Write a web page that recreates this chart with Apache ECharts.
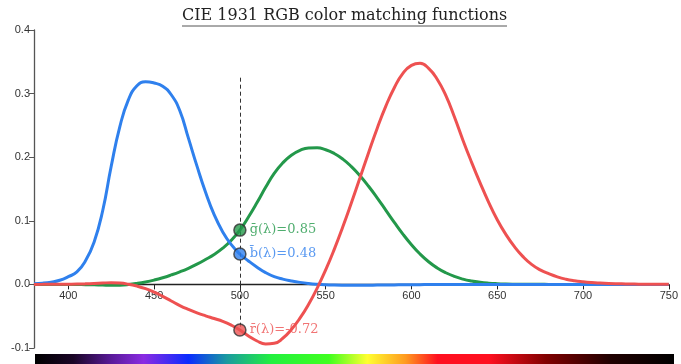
<!DOCTYPE html>
<html>
<head>
<meta charset="utf-8">
<script src="https://cdn.jsdelivr.net/npm/echarts@6/dist/echarts.min.js"></script>
<style>
  html, body { margin: 0; padding: 0; background: #fff; }
  #chart { width: 681px; height: 364px; }
</style>
</head>
<body>
<div id="chart"></div>
<script>
// wavelengths (nm), 5 nm steps
var wavelengths = [];
for (var w = 380; w <= 750; w += 5) wavelengths.push(w);

// CIE 1931 r-bar, g-bar, b-bar
var rBar = [0.00003, 0.00005, 0.00010, 0.00017, 0.00030, 0.00047, 0.00084, 0.00139, 0.00211, 0.00266,
  0.00218, 0.00036, -0.00261, -0.00673, -0.01213, -0.01874, -0.02608, -0.03324, -0.03933, -0.04471,
  -0.04939, -0.05364, -0.05814, -0.06414, -0.07173, -0.08120, -0.08901, -0.09356, -0.09264, -0.08473,
  -0.07101, -0.05316, -0.03152, -0.00613, 0.02279, 0.05514, 0.09060, 0.12840, 0.16768, 0.20715,
  0.24526, 0.27989, 0.30928, 0.33184, 0.34429, 0.34756, 0.33971, 0.32265, 0.29708, 0.26348,
  0.22677, 0.19233, 0.15968, 0.12905, 0.10167, 0.07857, 0.05932, 0.04366, 0.03149, 0.02294,
  0.01687, 0.01187, 0.00819, 0.00572, 0.00410, 0.00291, 0.00210, 0.00148, 0.00105, 0.00074,
  0.00052, 0.00036, 0.00025, 0.00017, 0.00012];
var gBar = [-0.00001, -0.00002, -0.00004, -0.00007, -0.00014, -0.00022, -0.00041, -0.00070, -0.00110, -0.00143,
  -0.00119, -0.00021, 0.00149, 0.00379, 0.00678, 0.01046, 0.01485, 0.01977, 0.02538, 0.03183,
  0.03914, 0.04713, 0.05689, 0.06948, 0.08536, 0.10593, 0.12860, 0.15262, 0.17468, 0.19113,
  0.20317, 0.21083, 0.21466, 0.21487, 0.21178, 0.20588, 0.19702, 0.18522, 0.17087, 0.15429,
  0.13610, 0.11686, 0.09754, 0.07909, 0.06246, 0.04776, 0.03557, 0.02583, 0.01828, 0.01253,
  0.00833, 0.00537, 0.00334, 0.00199, 0.00116, 0.00066, 0.00037, 0.00021, 0.00011, 0.00006,
  0.00003, 0.00001, 0, 0, 0, 0, 0, 0, 0, 0,
  0, 0, 0, 0, 0];
var bBar = [0.00117, 0.00189, 0.00359, 0.00647, 0.01214, 0.01969, 0.03707, 0.06637, 0.11541, 0.18575,
  0.24769, 0.29012, 0.31228, 0.31860, 0.31670, 0.31166, 0.29821, 0.27295, 0.22991, 0.18592,
  0.14494, 0.10968, 0.08257, 0.06246, 0.04776, 0.03688, 0.02698, 0.01842, 0.01221, 0.00830,
  0.00549, 0.00320, 0.00146, 0.00023, -0.00058, -0.00105, -0.00130, -0.00138, -0.00135, -0.00123,
  -0.00108, -0.00093, -0.00079, -0.00063, -0.00049, -0.00038, -0.00030, -0.00022, -0.00015, -0.00011,
  -0.00008, -0.00005, -0.00003, -0.00002, -0.00001, -0.00001, 0, 0, 0, 0,
  0, 0, 0, 0, 0, 0, 0, 0, 0, 0,
  0, 0, 0, 0, 0];

var xTicks = [400, 450, 500, 550, 600, 650, 700, 750];

// cursor readout at 500 nm
var cursorX = 500;
var cursorTop = 0.325;
var readoutNames = ['g\u0304(\u03bb)', 'b\u0304(\u03bb)', 'r\u0304(\u03bb)'];
var readoutValues = [0.08536, 0.04776, -0.07173];
var readoutTexts = ['0.85', '0.48', '-0.72'];

// spectrum strip colours (offset, colour)
var spectrumStops = [
  [0.00, '#000000'], [0.06, '#1a0526'], [0.12, '#5a1a9a'], [0.17, '#8a2be2'],
  [0.24, '#0a2cff'], [0.30, '#1a9aa0'], [0.37, '#22f040'], [0.46, '#40ff20'],
  [0.52, '#ffff30'], [0.58, '#ff9a20'], [0.63, '#ff1020'], [0.71, '#ff1020'],
  [0.80, '#800000'], [0.90, '#200000'], [1.00, '#000000']
];

var red = '#ee5151', green = '#23984a', blue = '#2f80ed';
var colors = [green, blue, red];

function pairs(ys) {
  return wavelengths.map(function (x, i) { return [x, ys[i]]; });
}

var gridTop = 30, gridBottom = 16;
var yMin = -0.1, yMax = 0.4;
// lift the x axis from the bottom of the grid up to y = 0
var zeroOffset = -(364 - gridTop - gridBottom) * (0 - yMin) / (yMax - yMin);

var chart = echarts.init(document.getElementById('chart'));

chart.setOption({
  animation: false,
  title: {
    text: 'CIE 1931 RGB color matching functions',
    left: 177,
    top: 3,
    textStyle: { fontFamily: 'DejaVu Serif', fontSize: 16, fontWeight: 'normal', color: '#222' }
  },
  grid: { left: 34, right: 11, top: gridTop, bottom: gridBottom },
  xAxis: {
    type: 'value',
    min: 380,
    max: 750,
    offset: zeroOffset,
    axisLine: { onZero: false, lineStyle: { color: '#222', width: 1.3 } },
    axisTick: { customValues: xTicks, length: 5, lineStyle: { color: '#222' } },
    axisLabel: { customValues: xTicks, fontFamily: 'Liberation Sans', fontSize: 11, color: '#333', margin: 6 },
    splitLine: { show: false }
  },
  yAxis: {
    type: 'value',
    min: yMin,
    max: yMax,
    interval: 0.1,
    axisLine: { show: true, lineStyle: { color: '#555', width: 1.3 } },
    axisTick: { show: true, length: 5, lineStyle: { color: '#555' } },
    axisLabel: {
      fontFamily: 'Liberation Sans', fontSize: 11, color: '#333', margin: 4,
      formatter: function (v) { return v.toFixed(1); }
    },
    splitLine: { show: false }
  },
  graphic: [
    { type: 'line', shape: { x1: 182, y1: 26, x2: 507, y2: 26 }, style: { stroke: '#555', lineWidth: 1 } },
    {
      type: 'rect', shape: { x: 35, y: 354, width: 639, height: 10 },
      style: {
        fill: new echarts.graphic.LinearGradient(0, 0, 1, 0, spectrumStops.map(function (s) {
          return { offset: s[0], color: s[1] };
        }))
      }
    }
  ],
  series: [
    { name: 'g', type: 'line', data: pairs(gBar), smooth: true, showSymbol: false,
      lineStyle: { color: green, width: 3 }, z: 2 },
    { name: 'b', type: 'line', data: pairs(bBar), smooth: true, showSymbol: false,
      lineStyle: { color: blue, width: 3 }, z: 3 },
    { name: 'r', type: 'line', data: pairs(rBar), smooth: true, showSymbol: false,
      lineStyle: { color: red, width: 3 }, z: 4 },
    {
      type: 'scatter',
      z: 6,
      symbolSize: 12,
      data: readoutValues.map(function (v, i) {
        return {
          value: [cursorX, v],
          itemStyle: { color: colors[i], borderColor: '#333', borderWidth: 1.5 },
          label: {
            show: true, position: 'right', distance: 3,
            formatter: readoutNames[i] + '=' + readoutTexts[i],
            fontFamily: 'DejaVu Serif', fontSize: 13, color: colors[i]
          }
        };
      }),
      markLine: {
        silent: true,
        symbol: 'none',
        z: 5,
        label: { show: false },
        lineStyle: { color: '#333', type: [4, 3], width: 1 },
        data: [[{ coord: [cursorX, cursorTop] }, { coord: [cursorX, readoutValues[2]] }]]
      }
    }
  ]
});
</script>
</body>
</html>
